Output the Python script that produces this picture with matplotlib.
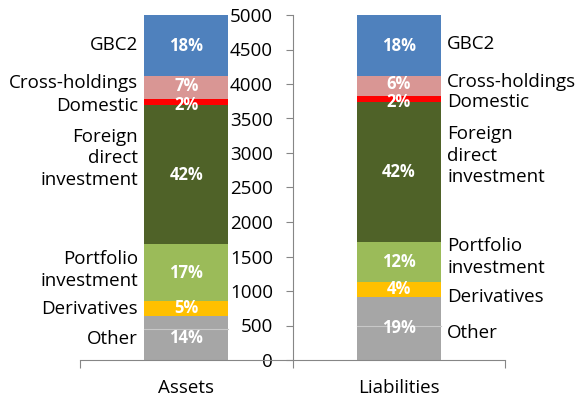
import matplotlib
matplotlib.use("Agg")
import matplotlib.pyplot as plt
import numpy as np

plt.rcParams['font.family'] = ['Open Sans', 'DejaVu Sans']

categories = ["Assets", "Liabilities"]
other_lower = [450, 495]
other_upper = [190, 420]
derivatives = [215, 215]
portfolio = [825, 580]
fdi = [2015, 2030]
domestic = [85, 85]
cross_holdings = [335, 290]
gbc2 = [885, 885]

pct_assets = ["14%", "5%", "17%", "42%", "2%", "7%", "18%"]
pct_liabs = ["19%", "4%", "12%", "42%", "2%", "6%", "18%"]
side_labels = ["Other", "Derivatives", "Portfolio\ninvestment",
               "Foreign\ndirect\ninvestment", "Domestic", "Cross-holdings", "GBC2"]

yticks = list(range(0, 5001, 500))

colors = ["#A6A6A6", "#A6A6A6", "#FFC000", "#9BBB59", "#4F6228",
          "#FF0000", "#D99694", "#4F81BD"]

fig = plt.figure(figsize=(5.79, 4.0), dpi=100)
ax = fig.add_axes([80/579, 40/400, 425/579, 345/400])

x = np.arange(len(categories))
width = 0.395
stack = [other_lower, other_upper, derivatives, portfolio, fdi, domestic,
         cross_holdings, gbc2]
bottom = np.zeros(len(categories))
bottoms = []
for vals, c in zip(stack, colors):
    v = np.array(vals, dtype=float)
    ax.bar(x, v, width, bottom=bottom, color=c, edgecolor='none', zorder=2)
    bottoms.append(bottom.copy())
    bottom = bottom + v

# faint boundary between the two grey parts of "Other"
for i in range(len(categories)):
    b = bottoms[1][i]
    ax.plot([x[i] - width/2, x[i] + width/2], [b, b], color="#C8C8C8",
            lw=0.8, zorder=3)

seg_vals = [np.array(other_lower) + np.array(other_upper), derivatives,
            portfolio, fdi, domestic, cross_holdings, gbc2]
seg_bottoms = [bottoms[0]] + bottoms[2:]

# label nudges (data units) to mimic the reference placement
side_offsets = [[-16, -8, 36, 238, -59, 64, 8],
                [-66, -109, 73, 232, -43, 59, 23]]
pct_offsets = [0, 0, 0, 0, -40, 25, 0]

for i, pcts in enumerate([pct_assets, pct_liabs]):
    for k, (v, b) in enumerate(zip(seg_vals, seg_bottoms)):
        yc = b[i] + np.array(v)[i] / 2
        ax.text(x[i], yc + pct_offsets[k], pcts[k], ha='center', va='center',
                color='white', fontsize=12, fontweight='bold', zorder=4)
        if i == 0:
            ax.text(x[i] - width/2 - 0.03, yc + side_offsets[i][k],
                    side_labels[k], ha='right', va='center', fontsize=13.5,
                    color='black', linespacing=1.25)
        else:
            ax.text(x[i] + width/2 + 0.03, yc + side_offsets[i][k],
                    side_labels[k], ha='left', va='center', fontsize=13.5,
                    color='black', linespacing=1.25)

ax.set_xlim(-0.5, 1.5)
ax.set_ylim(0, 5000)

for s in ['top', 'right']:
    ax.spines[s].set_visible(False)
ax.spines['left'].set_position(('data', 0.5))
ax.spines['left'].set_color('#868686')
ax.spines['bottom'].set_color('#868686')

ax.set_yticks(yticks)
ax.set_yticklabels([str(t) for t in yticks], fontsize=13.5)
ax.tick_params(axis='y', direction='out', length=5, color='#868686', pad=9)

ax.set_xticks([-0.5, 0.5, 1.5])
ax.set_xticklabels([])
ax.tick_params(axis='x', which='major', direction='out', length=5.5,
               color='#868686')
ax.set_xticks(x, minor=True)
ax.set_xticklabels(categories, minor=True, fontsize=13.5)
ax.tick_params(axis='x', which='minor', length=0, pad=14)

fig.savefig("out.png", dpi=100)
